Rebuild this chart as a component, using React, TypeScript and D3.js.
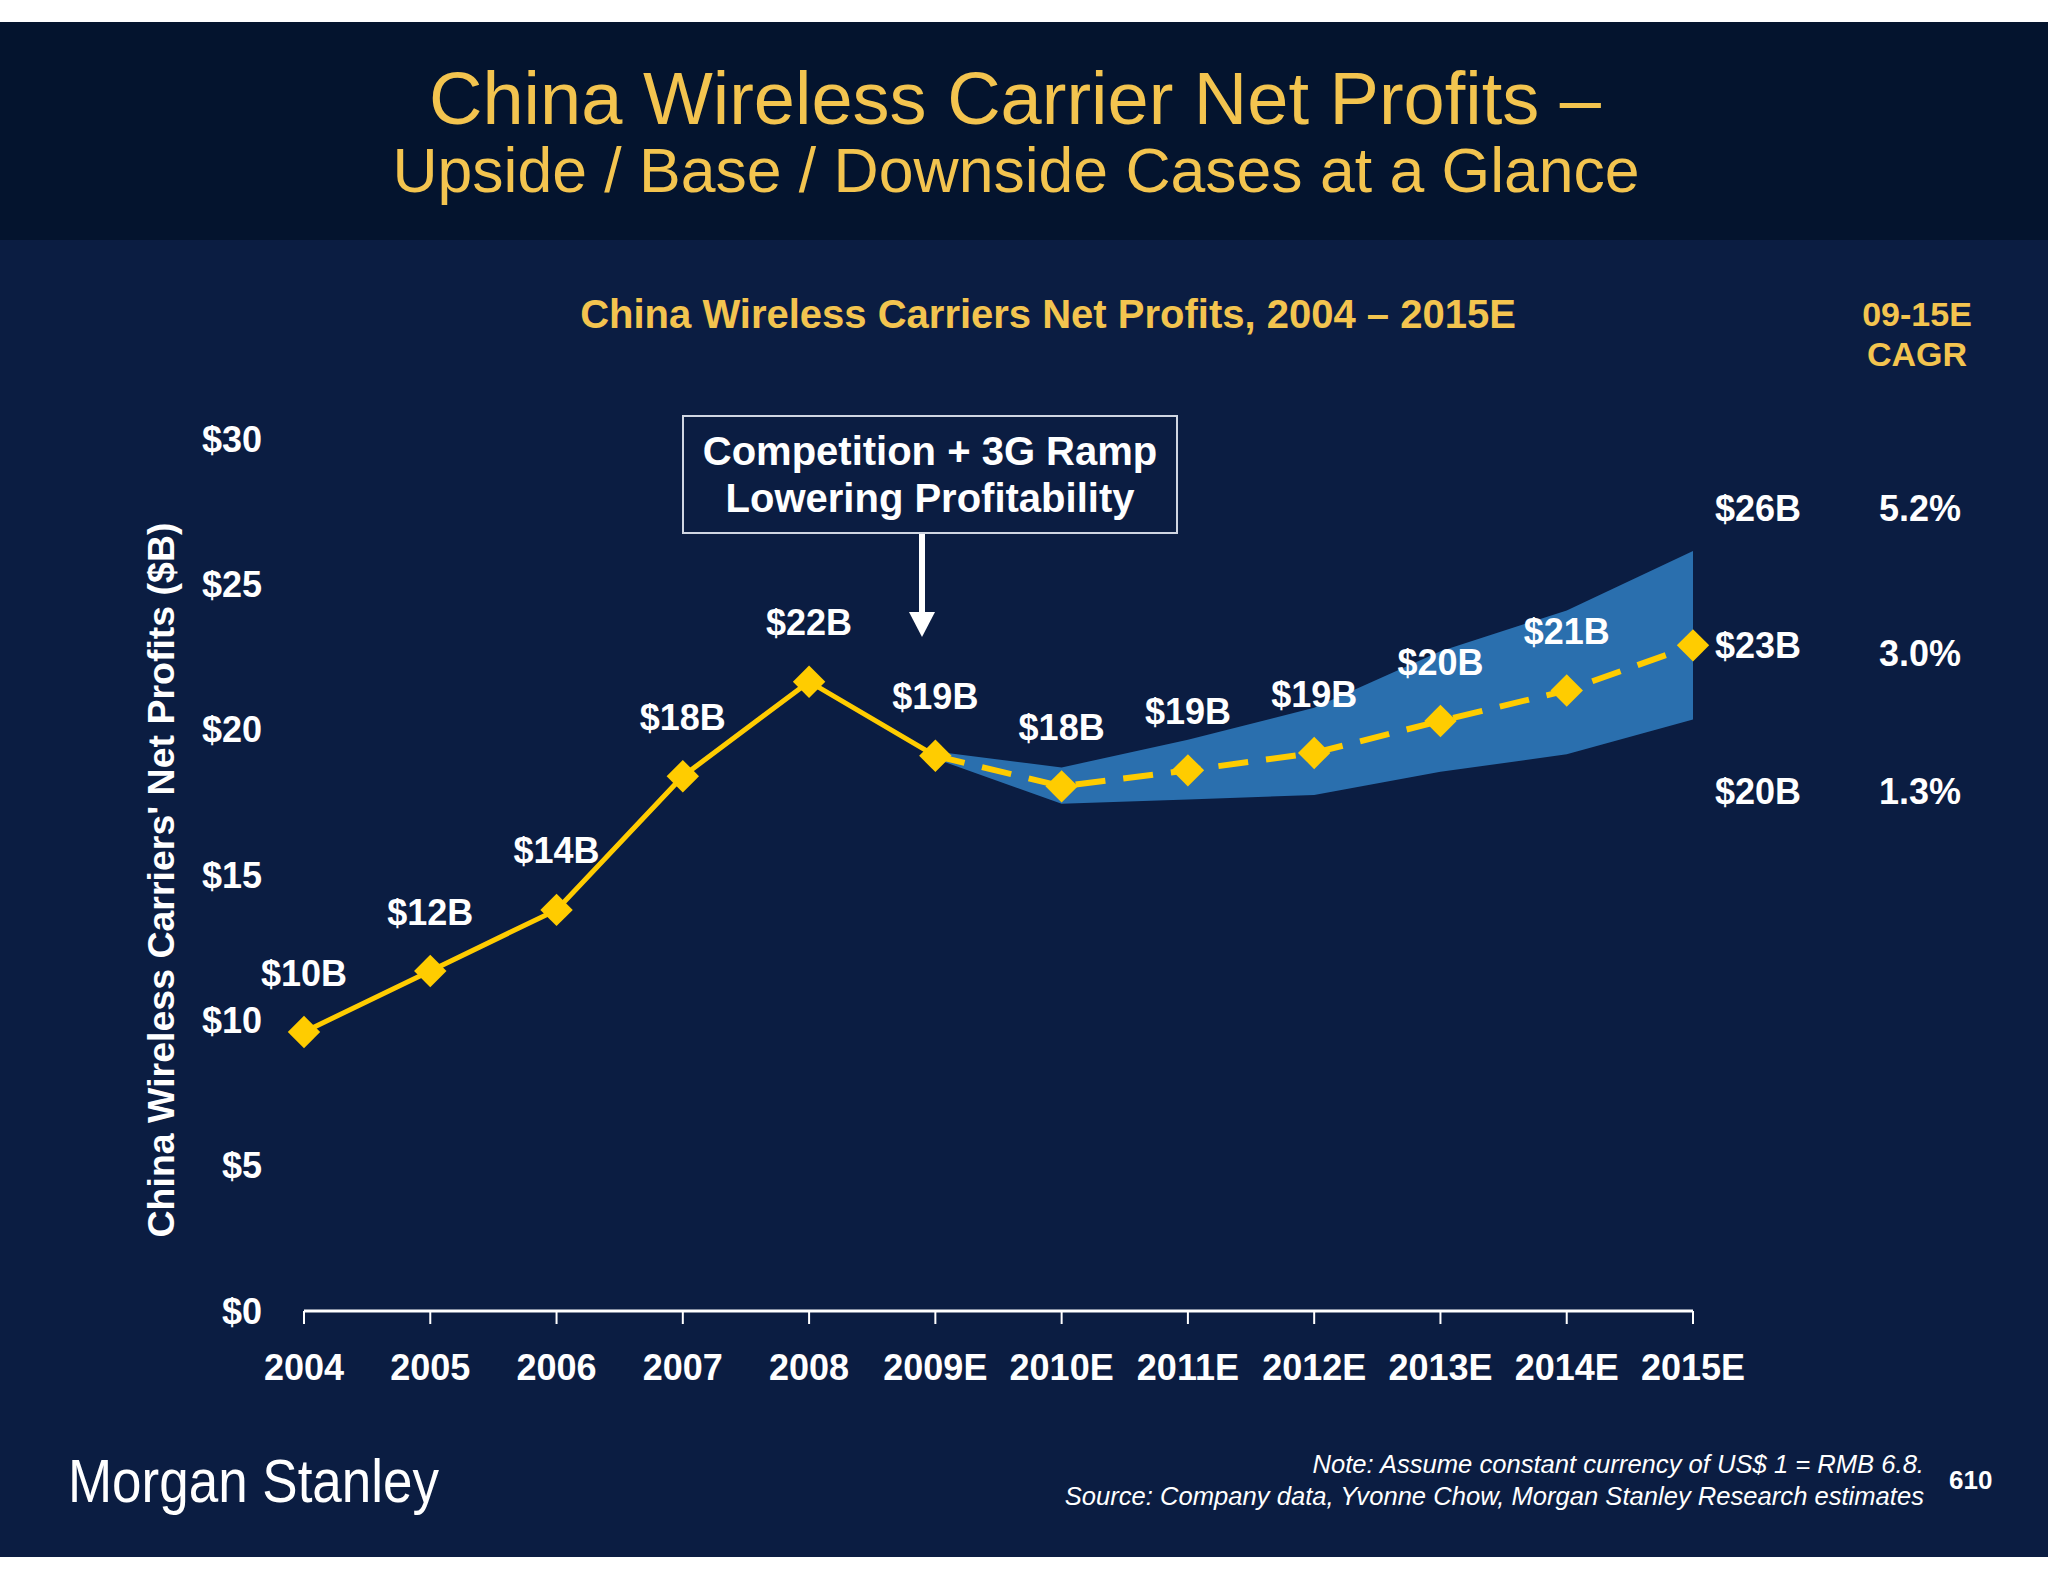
import React from 'react';
import * as d3 from 'd3';

const years = ['2004', '2005', '2006', '2007', '2008', '2009E', '2010E', '2011E', '2012E', '2013E', '2014E', '2015E'];
const baseCase = [9.6, 11.7, 13.8, 18.4, 21.65, 19.1, 18.05, 18.6, 19.2, 20.3, 21.35, 22.9];
const pointLabels = ['$10B', '$12B', '$14B', '$18B', '$22B', '$19B', '$18B', '$19B', '$19B', '$20B', '$21B', '$23B'];

// forecast band, 2009E..2015E
const forecastYears = ['2009E', '2010E', '2011E', '2012E', '2013E', '2014E', '2015E'];
const upsideCase = [19.25, 18.7, 19.65, 20.75, 22.7, 24.1, 26.15];
const downsideCase = [19.0, 17.45, 17.6, 17.75, 18.55, 19.15, 20.35];

const endLabels = ['$26B', '$23B', '$20B'];
const cagrLabels = ['5.2%', '3.0%', '1.3%'];
const yTicks = [0, 5, 10, 15, 20, 25, 30];

const W = 2048;
const H = 1582;
const FONT = '"Liberation Sans", Arial, Helvetica, sans-serif';
const GOLD = '#f3c44f';
const YELLOW = '#ffcc00';
const BAND = '#2a6fae';

const App: React.FC = () => {
  const x = d3.scalePoint<string>().domain(years).range([304, 1693]);
  const y = d3.scaleLinear().domain([0, 30]).range([1311, 439]);

  const pts = years.map((yr, i) => ({ yr, v: baseCase[i] }));
  const histPts = pts.slice(0, 6);
  const forePts = pts.slice(5);

  const line = d3.line<{ yr: string; v: number }>()
    .x((d) => x(d.yr) as number)
    .y((d) => y(d.v));

  const band = d3.area<number>()
    .x((_, i) => x(forecastYears[i]) as number)
    .y0((_, i) => y(downsideCase[i]))
    .y1((d) => y(d));

  const diamond = d3.symbol().type(d3.symbolDiamond2).size(670)();

  const lastX = x('2015E') as number;
  const last = forecastYears.length - 1;
  const endY = [y(upsideCase[last]) - 43, y(baseCase[baseCase.length - 1]), y(downsideCase[last]) + 72];

  return (
    <svg width={W} height={H} style={{ position: 'absolute', left: 0, top: 0 }} fontFamily={FONT}>
      <rect x={0} y={0} width={W} height={H} fill="#ffffff" />
      <rect x={0} y={22} width={W} height={218} fill="#04142e" />
      <rect x={0} y={240} width={W} height={1317} fill="#0b1d42" />

      <text x={1015} y={124} textAnchor="middle" fontSize={74} fill={GOLD}>
        China Wireless Carrier Net Profits –
      </text>
      <text x={1016} y={192} textAnchor="middle" fontSize={62.5} fill={GOLD}>
        Upside / Base / Downside Cases at a Glance
      </text>

      <text x={1048} y={328} textAnchor="middle" fontSize={40} fontWeight="bold" fill={GOLD}>
        China Wireless Carriers Net Profits, 2004 – 2015E
      </text>
      <text x={1917} y={326} textAnchor="middle" fontSize={34} fontWeight="bold" fill={GOLD}>09-15E</text>
      <text x={1917} y={366} textAnchor="middle" fontSize={34} fontWeight="bold" fill={GOLD}>CAGR</text>

      {/* y axis */}
      <text
        transform="translate(161,880) rotate(-90)"
        textAnchor="middle"
        dy="0.35em"
        fontSize={37.5}
        fontWeight="bold"
        fill="#ffffff"
      >
        China Wireless Carriers' Net Profits ($B)
      </text>
      {yTicks.map((t) => (
        <text key={t} x={262} y={y(t)} dy="0.35em" textAnchor="end" fontSize={36} fontWeight="bold" fill="#ffffff">
          ${t}
        </text>
      ))}

      {/* forecast band */}
      <path d={band(upsideCase) || ''} fill={BAND} />

      {/* x axis */}
      <line x1={x(years[0])} x2={lastX} y1={y(0)} y2={y(0)} stroke="#ffffff" strokeWidth={3} />
      {years.map((yr) => (
        <g key={yr}>
          <line x1={x(yr)} x2={x(yr)} y1={y(0)} y2={y(0) + 13} stroke="#ffffff" strokeWidth={2} />
          <text x={x(yr)} y={1380} textAnchor="middle" fontSize={36} fontWeight="bold" fill="#ffffff">
            {yr}
          </text>
        </g>
      ))}

      {/* base case line */}
      <path d={line(histPts) || ''} fill="none" stroke={YELLOW} strokeWidth={5} />
      <path d={line(forePts) || ''} fill="none" stroke={YELLOW} strokeWidth={6} strokeDasharray="30,18" />
      {pts.map((d) => (
        <path key={d.yr} d={diamond || ''} transform={`translate(${x(d.yr)},${y(d.v)})`} fill={YELLOW} />
      ))}

      {pts.slice(0, -1).map((d, i) => (
        <text key={d.yr} x={x(d.yr)} y={y(d.v) - 59} dy="0.35em" textAnchor="middle" fontSize={36} fontWeight="bold" fill="#ffffff">
          {pointLabels[i]}
        </text>
      ))}

      {endLabels.map((l, i) => (
        <text key={l} x={lastX + 22} y={endY[i]} dy="0.35em" fontSize={36} fontWeight="bold" fill="#ffffff">
          {l}
        </text>
      ))}
      {cagrLabels.map((l, i) => (
        <text key={l} x={1920} y={endY[i] + (i === 1 ? 8 : 0)} dy="0.35em" textAnchor="middle" fontSize={36} fontWeight="bold" fill="#ffffff">
          {l}
        </text>
      ))}

      {/* annotation */}
      <rect x={683} y={416} width={494} height={117} fill="#0b1d42" stroke="#d0d6e2" strokeWidth={2} />
      <text x={930} y={465} textAnchor="middle" fontSize={40} fontWeight="bold" fill="#ffffff">
        Competition + 3G Ramp
      </text>
      <text x={930} y={512} textAnchor="middle" fontSize={40} fontWeight="bold" fill="#ffffff">
        Lowering Profitability
      </text>
      <line x1={922} x2={922} y1={534} y2={614} stroke="#ffffff" strokeWidth={6} />
      <path d="M909,612 L935,612 L922,637 Z" fill="#ffffff" />

      {/* footer */}
      <text x={68} y={1502} fontSize={62} fill="#ffffff" textLength={371} lengthAdjust="spacingAndGlyphs">
        Morgan Stanley
      </text>
      <text x={1924} y={1473} textAnchor="end" fontSize={25.6} fontStyle="italic" fill="#ffffff">
        Note: Assume constant currency of US$ 1 = RMB 6.8.
      </text>
      <text x={1924} y={1505} textAnchor="end" fontSize={25.6} fontStyle="italic" fill="#ffffff">
        Source: Company data, Yvonne Chow, Morgan Stanley Research estimates
      </text>
      <text x={1949} y={1489} fontSize={26} fontWeight="bold" fill="#ffffff">610</text>
    </svg>
  );
};

export default App;
